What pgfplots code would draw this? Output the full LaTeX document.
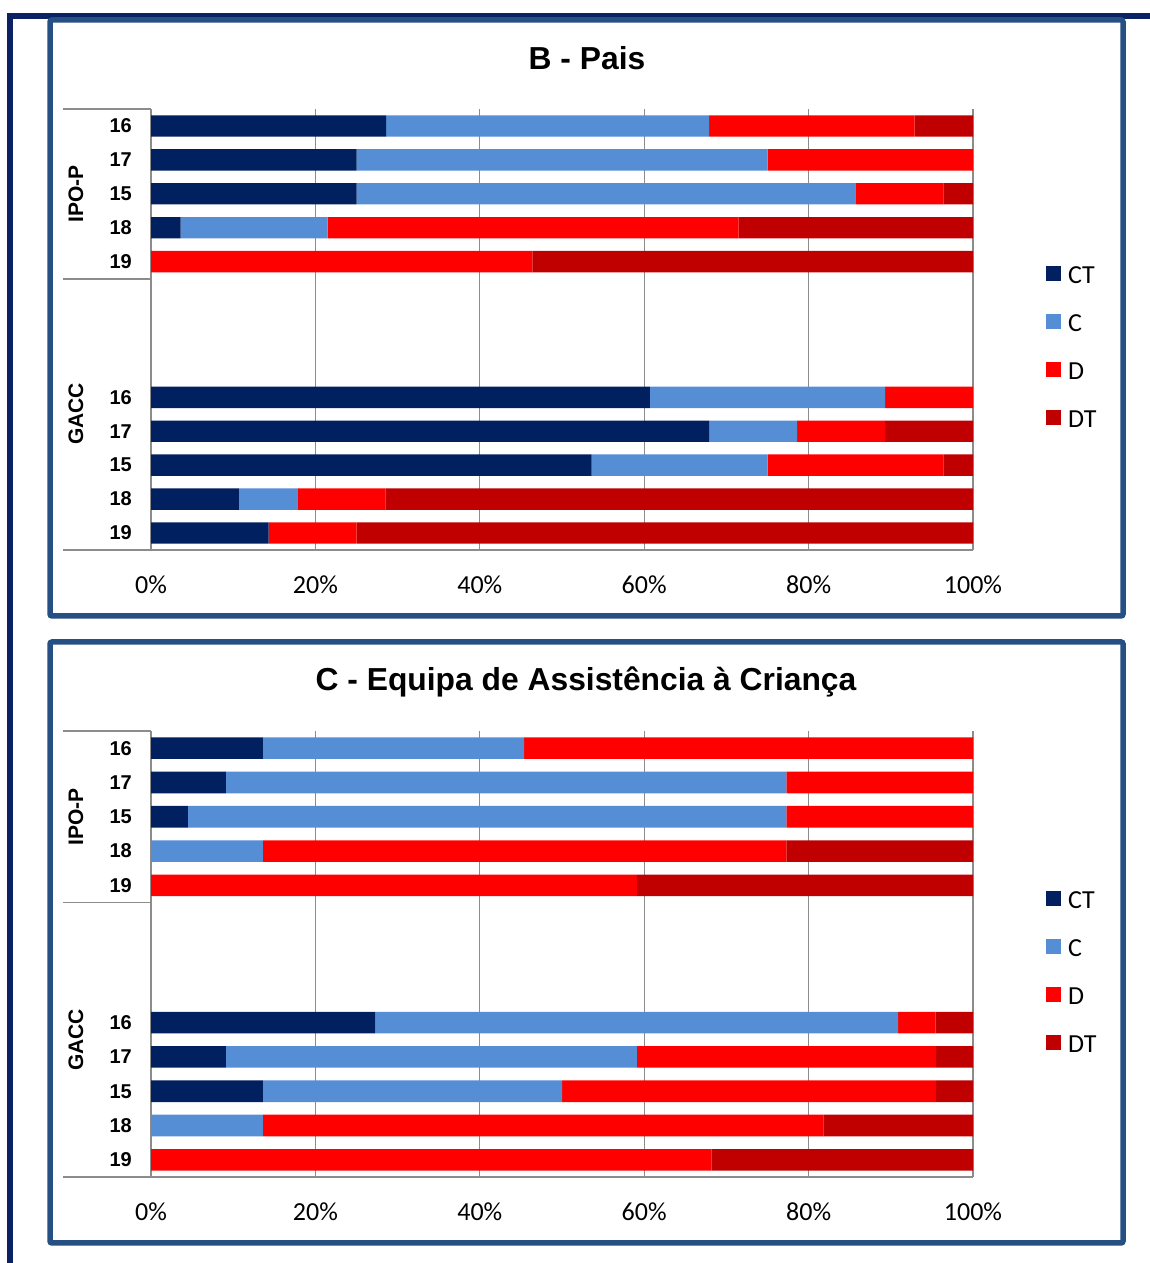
\documentclass[border=0pt]{standalone}
\usepackage{fontspec}
\setmainfont{Carlito}
\newfontfamily\arialfont{Liberation Sans}
\usepackage{pgfplots}
\usepackage{pgfplotstable}
\pgfplotsset{compat=1.18}

\definecolor{ctblue}{HTML}{002060}
\definecolor{cblue}{HTML}{558ED5}
\definecolor{dred}{HTML}{FF0000}
\definecolor{dtred}{HTML}{C00000}
\definecolor{gridgray}{HTML}{8C8C8C}
\definecolor{panelblue}{HTML}{264F84}
\definecolor{framenavy}{HTML}{0A2263}

% pos: row slot (IPO-P 16,17,15,18,19 = 13..9 ; GACC 16,17,15,18,19 = 5..1)
\pgfplotstableread{
pos CT   C    D    DT
13  28.6 39.3 25.0 7.1
12  25.0 50.0 25.0 0
11  25.0 60.7 10.7 3.6
10  3.6  17.9 50.0 28.5
9   0    0    46.4 53.6
5   60.7 28.6 10.7 0
4   67.9 10.7 10.7 10.7
3   53.6 21.4 21.4 3.6
2   10.7 7.1  10.7 71.5
1   14.3 0    10.7 75.0
}\dataPais

\pgfplotstableread{
pos CT   C    D    DT
13  13.6 31.8 54.6 0
12  9.1  68.2 22.7 0
11  4.5  72.8 22.7 0
10  0    13.6 63.7 22.7
9   0    0    59.1 40.9
5   27.3 63.6 4.55 4.55
4   9.1  50.0 36.4 4.5
3   13.6 36.4 45.5 4.5
2   0    13.6 68.2 18.2
1   0    0    68.2 31.8
}\dataEquipa

\pgfplotsset{likert/.style={
  xbar stacked, scale only axis, width=822pt,
  xmin=0, xmax=100, ymin=0.5, ymax=13.5,
  bar width=0.63,
  xtick={0,20,40,60,80,100},
  xticklabels={0\%,20\%,40\%,60\%,80\%,100\%},
  ytick={1,2,3,4,5,9,10,11,12,13},
  yticklabels={19,18,15,17,16,19,18,15,17,16},
  xmajorgrids, grid style={gridgray, line width=1.3pt},
  axis x line*=bottom, axis y line*=left,
  axis line style={gridgray, line width=1.3pt},
  major tick length=0pt,
  xticklabel style={font=\fontsize{26}{30}\selectfont, inner sep=0pt, yshift=-26pt},
  yticklabel style={font=\arialfont\bfseries\fontsize{20}{24}\selectfont, inner sep=0pt, xshift=-19pt},
  legend style={draw=none, fill=none, inner sep=0pt, anchor=west,
    font=\fontsize{26}{30}\selectfont, row sep=30.6pt, column sep=7pt,
    nodes={inner sep=0pt, text height=17pt, text depth=0pt}},
  legend cell align=left,
  legend image code/.code={\fill[##1] (0pt,-6pt) rectangle (15pt,9pt);},
}}

\begin{document}
\begin{tikzpicture}[x=1pt,y=1pt]
\useasboundingbox (0,0) rectangle (1150,1263);

% outer page frame
\draw[framenavy, line width=5.5pt] (10,-5) -- (10,1247) -- (1160,1247);

% panel frames
\draw[panelblue, line width=5.5pt, rounded corners=2pt] (50,1243) rectangle (1123,647);
\draw[panelblue, line width=5.5pt, rounded corners=2pt] (50,621) rectangle (1123,20);

% titles
\node[font=\arialfont\bfseries\fontsize{31.8}{36}\selectfont] at (587,1205) {B - Pais};
\node[font=\arialfont\bfseries\fontsize{31.8}{36}\selectfont] at (586,581) {C - Equipa de Assistência à Criança};

% ---- B - Pais
\begin{axis}[likert, height=441pt, at={(151pt,713pt)}, anchor=south west,
  legend style={at={(1.0888,0.4603)}}]
\addplot[fill=ctblue, draw=none] table[x=CT, y=pos] {\dataPais};
\addplot[fill=cblue,  draw=none] table[x=C,  y=pos] {\dataPais};
\addplot[fill=dred,   draw=none] table[x=D,  y=pos] {\dataPais};
\addplot[fill=dtred,  draw=none] table[x=DT, y=pos] {\dataPais};
\legend{CT,C,D,DT}
\end{axis}

% category group lines and labels
\begin{scope}[gridgray, line width=1.3pt]
\draw (63,1154) -- (151,1154);
\draw (63,984) -- (151,984);
\draw (63,713) -- (151,713);
\end{scope}
\node[rotate=90, font=\arialfont\bfseries\fontsize{21}{24}\selectfont] at (76,1069) {IPO-P};
\node[rotate=90, font=\arialfont\bfseries\fontsize{21}{24}\selectfont] at (76,849) {GACC};

% ---- C - Equipa de Assistencia a Crianca
\begin{axis}[likert, height=446pt, at={(151pt,86pt)}, anchor=south west,
  legend style={at={(1.0888,0.4596)}}]
\addplot[fill=ctblue, draw=none] table[x=CT, y=pos] {\dataEquipa};
\addplot[fill=cblue,  draw=none] table[x=C,  y=pos] {\dataEquipa};
\addplot[fill=dred,   draw=none] table[x=D,  y=pos] {\dataEquipa};
\addplot[fill=dtred,  draw=none] table[x=DT, y=pos] {\dataEquipa};
\legend{CT,C,D,DT}
\end{axis}

\begin{scope}[gridgray, line width=1.3pt]
\draw (63,532) -- (151,532);
\draw (63,360.5) -- (151,360.5);
\draw (63,86) -- (151,86);
\end{scope}
\node[rotate=90, font=\arialfont\bfseries\fontsize{21}{24}\selectfont] at (76,446) {IPO-P};
\node[rotate=90, font=\arialfont\bfseries\fontsize{21}{24}\selectfont] at (76,223) {GACC};
\end{tikzpicture}
\end{document}
